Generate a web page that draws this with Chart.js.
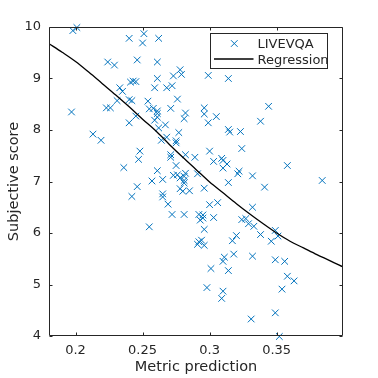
<!DOCTYPE html>
<html>
<head>
<meta charset="utf-8">
<script src="https://cdn.jsdelivr.net/npm/chart.js@4"></script>
<style>
html,body{margin:0;padding:0;background:#fff;}
#wrap{width:378px;height:378px;position:relative;}
</style>
</head>
<body>
<div id="wrap"><canvas id="c" width="378" height="378"></canvas></div>
<script>
// ---- data ----
const seriesName = "LIVEVQA";
const fitName = "Regression";
const metricPrediction = [
0.198,0.201,0.240,0.251,0.250,0.262,0.224,0.229,0.246,0.261,
0.261,0.273,0.278,0.279,0.299,0.314,0.241,0.243,0.245,0.233,
0.235,0.259,0.268,0.272,0.276,0.231,0.240,0.242,0.254,0.197,
0.223,0.226,0.255,0.258,0.261,0.261,0.271,0.282,0.281,0.245,
0.240,0.259,0.261,0.296,0.296,0.299,0.305,0.344,0.338,0.262,
0.267,0.277,0.314,0.315,0.323,0.213,0.219,0.268,0.264,0.275,
0.275,0.324,0.300,0.248,0.247,0.271,0.271,0.282,0.289,0.303,
0.309,0.310,0.310,0.313,0.236,0.275,0.261,0.273,0.276,0.282,
0.281,0.278,0.281,0.265,0.291,0.321,0.322,0.332,0.358,0.384,
0.257,0.281,0.296,0.246,0.242,0.265,0.265,0.269,0.272,0.281,
0.255,0.278,0.280,0.285,0.314,0.341,0.300,0.306,0.292,0.295,
0.295,0.293,0.296,0.303,0.332,0.324,0.327,0.329,0.333,0.338,
0.349,0.351,0.346,0.320,0.317,0.292,0.294,0.291,0.296,0.301,
0.311,0.310,0.318,0.314,0.332,0.349,0.356,0.358,0.363,0.354,
0.298,0.310,0.309,0.349,0.331,0.352
];
const subjectiveScore = [
9.93,9.99,9.78,9.87,9.69,9.78,9.32,9.26,9.36,9.32,
9.00,9.05,9.17,9.08,9.06,9.00,8.93,8.95,8.94,8.82,
8.75,8.82,8.82,8.86,8.60,8.57,8.59,8.57,8.56,8.35,
8.43,8.43,8.41,8.42,8.37,8.32,8.42,8.33,8.22,8.27,
8.14,8.19,8.25,8.43,8.31,8.14,8.26,8.46,8.17,8.04,
8.10,7.95,8.01,7.96,7.97,7.92,7.80,7.86,7.80,7.79,
7.75,7.64,7.59,7.59,7.43,7.52,7.47,7.52,7.47,7.39,
7.45,7.41,7.26,7.34,7.27,7.31,7.21,7.12,7.13,7.16,
7.10,7.07,7.02,7.04,7.15,7.15,7.20,7.11,7.31,7.02,
7.01,6.97,6.87,6.90,6.71,6.76,6.70,6.56,6.36,6.36,
6.12,6.86,6.81,6.82,6.98,6.89,6.55,6.59,6.36,6.35,
6.29,6.25,6.07,6.30,6.50,6.26,6.28,6.18,6.13,5.97,
6.05,5.94,5.84,5.95,5.85,5.83,5.86,5.78,5.76,5.31,
5.53,5.45,5.59,5.27,5.55,5.48,5.45,5.16,5.07,4.91,
4.94,4.87,4.73,4.45,4.33,3.99
];
const regressionX = [0.18,0.19,0.20,0.21,0.22,0.23,0.24,0.25,0.26,0.27,0.28,0.29,0.30,0.31,0.32,0.33,0.34,0.35,0.36,0.37,0.38,0.39,0.3995];
const regressionY = [9.68,9.51,9.33,9.12,8.90,8.68,8.45,8.21,7.98,7.72,7.47,7.23,6.99,6.78,6.57,6.37,6.18,6.00,5.84,5.71,5.58,5.46,5.34];
const xTickValues = [0.2,0.25,0.3,0.35];
const xTickLabels = ["0.2","0.25","0.3","0.35"];
const yTickValues = [4,5,6,7,8,9,10];
const xLabel = "Metric prediction";
const yLabel = "Subjective score";

// ---- chart ----
const BLUE = '#0072BD';
const AX = '#262626';
Chart.defaults.font.family = "'DejaVu Sans', sans-serif";
Chart.defaults.color = AX;

const scatterPts = metricPrediction.map((v,i)=>({x:v,y:subjectiveScore[i]}));
const fitPts = regressionX.map((v,i)=>({x:v,y:regressionY[i]}));

const frameTicks = {
  id:'frameTicks',
  afterDatasetsDraw(chart){
    const {ctx, chartArea:a, scales:{x,y}} = chart;
    ctx.save();
    ctx.strokeStyle = AX; ctx.lineWidth = 1;
    const L=Math.round(a.left)+0.5, R=Math.round(a.right)-0.5, T=Math.round(a.top)+0.5, B=Math.round(a.bottom)-0.5;
    ctx.beginPath();
    ctx.rect(L,T,R-L,B-T);
    x.ticks.forEach(t=>{const p=Math.round(x.getPixelForValue(t.value))+0.5; ctx.moveTo(p,B); ctx.lineTo(p,B-3); ctx.moveTo(p,T); ctx.lineTo(p,T+3);});
    y.ticks.forEach(t=>{const p=Math.round(y.getPixelForValue(t.value))+0.5; ctx.moveTo(L,p); ctx.lineTo(L+3,p); ctx.moveTo(R,p); ctx.lineTo(R-3,p);});
    ctx.stroke();
    ctx.restore();
  },
  afterDraw(chart){
    const ctx = chart.ctx;
    ctx.save();
    // legend box
    ctx.fillStyle='#fff'; ctx.strokeStyle=AX; ctx.lineWidth=1;
    ctx.fillRect(210.5,33.5,117,35);
    ctx.strokeRect(210.5,33.5,117,35);
    // marker
    ctx.strokeStyle=BLUE; ctx.lineWidth=1;
    ctx.beginPath();
    const r=4.7*Math.SQRT1_2;
    ctx.moveTo(234.3-r,43.5-r); ctx.lineTo(234.3+r,43.5+r);
    ctx.moveTo(234.3-r,43.5+r); ctx.lineTo(234.3+r,43.5-r);
    ctx.stroke();
    // line
    ctx.strokeStyle='#000'; ctx.lineWidth=1.3;
    ctx.beginPath(); ctx.moveTo(214,59); ctx.lineTo(253.5,59); ctx.stroke();
    ctx.fillStyle=AX; ctx.font="13px 'DejaVu Sans'"; ctx.textBaseline='alphabetic'; ctx.textAlign='left';
    ctx.fillText(seriesName,257.5,48.3);
    ctx.fillText(fitName,257.5,63.5);
    ctx.restore();
  }
};

new Chart(document.getElementById('c'),{
  type:'scatter',
  data:{datasets:[
    {label:seriesName,data:scatterPts,pointStyle:'crossRot',pointRadius:4.7,pointHoverRadius:4.7,borderColor:BLUE,backgroundColor:BLUE,pointBorderWidth:1,borderWidth:1,showLine:false,clip:false,order:2},
    {label:fitName,data:fitPts,showLine:true,pointRadius:0,borderColor:'#000',borderWidth:1.3,cubicInterpolationMode:'monotone',fill:false,order:1}
  ]},
  options:{
    responsive:false,animation:false,
    layout:{padding:{left:0,right:35,top:27,bottom:0}},
    plugins:{legend:{display:false},tooltip:{enabled:false}},
    scales:{
      x:{type:'linear',min:0.1802,max:0.3995,
        afterBuildTicks:(s)=>{s.ticks=xTickValues.map(v=>({value:v}));},
        afterFit:(s)=>{s.height=42;},
        grid:{display:false,drawTicks:false},border:{display:false},
        ticks:{padding:7,font:{size:13},color:AX,maxRotation:0,autoSkip:false,
          callback:(v,i)=>xTickLabels[i]},
        title:{display:true,text:xLabel,font:{size:14.5},color:AX,padding:{top:0,bottom:2}}
      },
      y:{type:'linear',min:4,max:10,
        afterBuildTicks:(s)=>{s.ticks=yTickValues.map(v=>({value:v}));},
        afterFit:(s)=>{s.width=49;},
        grid:{display:false,drawTicks:false},border:{display:false},
        ticks:{padding:8,font:{size:13},color:AX,callback:(v)=>String(v)},
        title:{display:true,text:yLabel,font:{size:14.5},color:AX,padding:{top:6,bottom:0}}
      }
    }
  },
  plugins:[frameTicks]
});
</script>
</body>
</html>
